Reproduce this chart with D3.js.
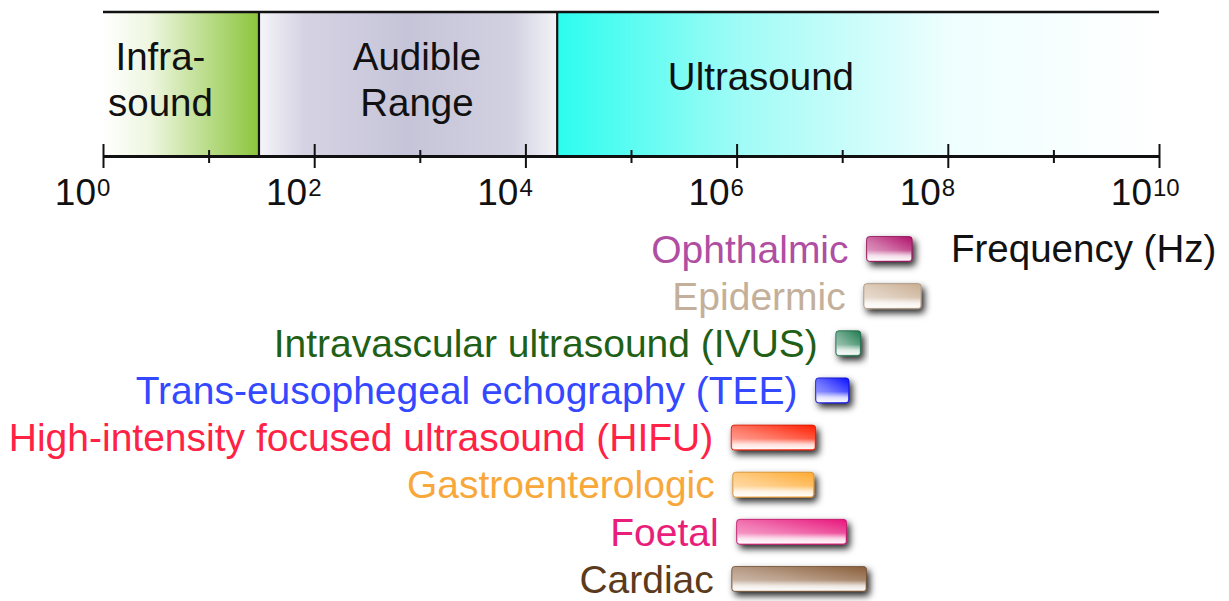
<html>
<head>
<meta charset="UTF-8">
<style>
  body { margin: 0; background: #fff; }
  text { font-family: Arial, "Liberation Sans", sans-serif; }
  .axis path, .axis line { stroke: #111; fill: none; }
</style>
<script src="https://cdn.jsdelivr.net/npm/d3@7"></script>
</head>
<body>
<div class="chart"></div>
<script>

// frequency bands (Hz)
var bandNames = ["Infra-|sound", "Audible|Range", "Ultrasound"];
var bandFrom = [1, 30, 2e4];
var bandTo = [30, 2e4, 1e10];
var bandLabelAt = [3.5, 940, 1.7e6];

// medical applications, frequency range (Hz)
var appNames = ["Ophthalmic", "Epidermic", "Intravascular ultrasound (IVUS)",
  "Trans-eusophegeal echography (TEE)", "High-intensity focused ultrasound (HIFU)",
  "Gastroenterologic", "Foetal", "Cardiac"];
var appLow = [1.7e7, 1.6e7, 8.7e6, 5.6e6, 0.89e6, 0.92e6, 1.0e6, 0.9e6];
var appHigh = [4.6e7, 5.6e7, 1.5e7, 1.16e7, 5.6e6, 5.4e6, 1.1e7, 1.7e7];
var appBarColor = ["#b0106a", "#c9ae92", "#1d7a4e", "#0a10ff", "#ff1e00", "#ffaa30", "#e8167c", "#8a5e3a"];
var appTextColor = ["#b04ea2", "#c4b09a", "#1f5f16", "#3348ff", "#ff2244", "#f8a83a", "#e91e7a", "#5c3a1c"];

var majorExp = [0, 2, 4, 6, 8, 10];
var minorExp = [1, 3, 5, 7, 9];

var width = 1229, height = 601;
var axisY = 156, bandTop = 12;

var x = d3.scaleLog().domain([1, 1e10]).range([103, 1159]);
var row = d3.scalePoint().domain(appNames).range([249, 579]);

var svg = d3.select(".chart").append("svg")
    .attr("width", width)
    .attr("height", height);

var defs = svg.append("defs");

// band gradients
var bandStops = [
  [[0, "#ffffff"], [0.3, "#eef6e0"], [1, "#8bc53c"]],
  [[0, "#f5f5f9"], [0.15, "#d5d3e3"], [0.5, "#c6c4d8"], [0.85, "#d2d1e1"], [1, "#f3f3f7"]],
  [[0, "#2cfdee"], [0.3, "#9ffbf6"], [0.65, "#eefefe"], [1, "#ffffff"]]
];
bandStops.forEach(function(stops, i) {
  var g = defs.append("linearGradient").attr("id", "band" + i)
      .attr("x1", 0).attr("x2", 1).attr("y1", 0).attr("y2", 0);
  stops.forEach(function(s) {
    g.append("stop").attr("offset", s[0]).attr("stop-color", s[1]);
  });
});

// bar gradients
appBarColor.forEach(function(c, i) {
  var g = defs.append("linearGradient").attr("id", "bar" + i)
      .attr("x1", 0).attr("y1", 1).attr("x2", 1).attr("y2", 0);
  g.append("stop").attr("offset", 0).attr("stop-color", d3.interpolateRgb(c, "#fff")(0.65));
  g.append("stop").attr("offset", 0.45).attr("stop-color", d3.interpolateRgb(c, "#fff")(0.4));
  g.append("stop").attr("offset", 1).attr("stop-color", c);
});
var gloss = defs.append("linearGradient").attr("id", "gloss")
    .attr("x1", 0).attr("y1", 0).attr("x2", 0).attr("y2", 1);
gloss.append("stop").attr("offset", 0).attr("stop-color", "#fff").attr("stop-opacity", 0);
gloss.append("stop").attr("offset", 0.55).attr("stop-color", "#fff").attr("stop-opacity", 0.05);
gloss.append("stop").attr("offset", 0.8).attr("stop-color", "#fff").attr("stop-opacity", 0.75);
gloss.append("stop").attr("offset", 1).attr("stop-color", "#fff").attr("stop-opacity", 0.95);

var shadow = defs.append("filter").attr("id", "shadow")
    .attr("x", "-30%").attr("y", "-60%").attr("width", "160%").attr("height", "240%");
shadow.append("feDropShadow").attr("dx", 3).attr("dy", 4)
    .attr("stdDeviation", 3.5).attr("flood-color", "#000").attr("flood-opacity", 0.85);

// bands
var bands = d3.range(bandNames.length);
svg.selectAll(".band")
    .data(bands)
  .enter().append("rect")
    .attr("class", "band")
    .attr("x", function(i) { return x(bandFrom[i]); })
    .attr("y", bandTop)
    .attr("width", function(i) { return x(bandTo[i]) - x(bandFrom[i]); })
    .attr("height", axisY - bandTop)
    .style("fill", function(i) { return "url(#band" + i + ")"; });

// separators between bands
svg.selectAll(".sep")
    .data(bandFrom.slice(1))
  .enter().append("line")
    .attr("x1", function(d) { return x(d); })
    .attr("x2", function(d) { return x(d); })
    .attr("y1", bandTop)
    .attr("y2", axisY)
    .style("stroke", "#111")
    .style("stroke-width", 2.2);

svg.append("line")
    .attr("x1", x(1)).attr("x2", x(1e10))
    .attr("y1", bandTop).attr("y2", bandTop)
    .style("stroke", "#111")
    .style("stroke-width", 2.5);

// band labels
bands.forEach(function(i) {
  var lines = bandNames[i].split("|");
  var t = svg.append("text")
      .attr("x", x(bandLabelAt[i]))
      .attr("text-anchor", "middle")
      .style("font-size", "38.5px")
      .style("fill", "#111");
  lines.forEach(function(l, k) {
    t.append("tspan")
        .attr("x", x(bandLabelAt[i]))
        .attr("y", 78 + 14 + (k - (lines.length - 1) / 2) * 46 + (lines.length > 1 ? 1 : -2))
        .text(l);
  });
});

// axis: major and minor ticks above and below
function pow10(e) { return Math.pow(10, e); }
var axisDefs = [
  [d3.axisBottom(x).tickValues(majorExp.map(pow10)).tickSize(12), "major"],
  [d3.axisTop(x).tickValues(majorExp.map(pow10)).tickSize(12), "major"],
  [d3.axisBottom(x).tickValues(minorExp.map(pow10)).tickSize(7), "minor"],
  [d3.axisTop(x).tickValues(minorExp.map(pow10)).tickSize(6), "minor"]
];
axisDefs.forEach(function(a) {
  svg.append("g")
      .attr("class", "axis " + a[1])
      .attr("transform", "translate(0," + axisY + ")")
      .call(a[0].tickFormat("").tickSizeOuter(0))
      .call(function(g) {
        g.select(".domain").style("stroke-width", 2.5);
        g.selectAll("line").style("stroke-width", 2);
      });
});

// tick labels as 10 with superscript exponent
var tickLab = svg.append("g").selectAll("g")
    .data(majorExp)
  .enter().append("g");
tickLab.append("text")
    .attr("x", function(e) { return x(pow10(e)) - 7; })
    .attr("y", 205)
    .attr("text-anchor", "end")
    .style("font-size", "37px")
    .style("fill", "#111")
    .text("10");
tickLab.append("text")
    .attr("x", function(e) { return x(pow10(e)) - 6; })
    .attr("y", 196)
    .style("font-size", "24px")
    .style("fill", "#111")
    .text(function(e) { return e; });

// application bars
var apps = d3.range(appNames.length);
var bar = svg.selectAll(".app")
    .data(apps)
  .enter().append("g")
    .attr("class", "app");

bar.append("rect")
    .attr("x", function(i) { return x(appLow[i]); })
    .attr("y", function(i) { return row(appNames[i]) - 12.5; })
    .attr("width", function(i) { return x(appHigh[i]) - x(appLow[i]); })
    .attr("height", 25)
    .attr("rx", 3)
    .attr("filter", "url(#shadow)")
    .style("fill", function(i) { return "url(#bar" + i + ")"; })
    .style("stroke", function(i) { return d3.color(appBarColor[i]).darker(0.6); })
    .style("stroke-width", 0.8);

bar.append("rect")
    .attr("x", function(i) { return x(appLow[i]) + 1; })
    .attr("y", function(i) { return row(appNames[i]) - 11.5; })
    .attr("width", function(i) { return x(appHigh[i]) - x(appLow[i]) - 2; })
    .attr("height", 23)
    .attr("rx", 2)
    .style("fill", "url(#gloss)");

bar.append("text")
    .attr("x", function(i) { return x(appLow[i]) - 18; })
    .attr("y", function(i) { return row(appNames[i]); })
    .attr("dy", "0.35em")
    .attr("text-anchor", "end")
    .style("font-size", "39px")
    .style("fill", function(i) { return appTextColor[i]; })
    .text(function(i) { return appNames[i]; });

svg.append("text")
    .attr("x", 951)
    .attr("y", row(appNames[0]))
    .attr("dy", "0.35em")
    .style("font-size", "38.5px")
    .style("fill", "#111")
    .text("Frequency (Hz)");

</script>
</body>
</html>
